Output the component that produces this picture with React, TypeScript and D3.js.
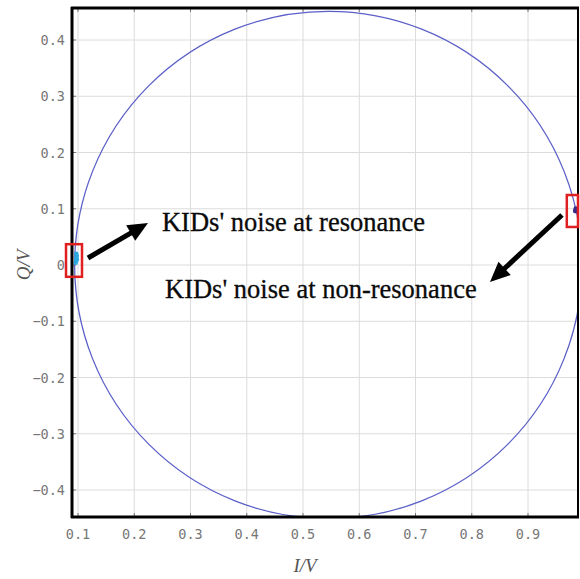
import * as React from 'react';
import * as d3 from 'd3';

const width = 580;
const height = 579;

const xTicks = [0.1, 0.2, 0.3, 0.4, 0.5, 0.6, 0.7, 0.8, 0.9];
const yTicks = [-0.4, -0.3, -0.2, -0.1, 0, 0.1, 0.2, 0.3, 0.4];

// IQ resonance circle
const circleCenter = [0.545, 0];
const circleRadius = 0.451;

// noise clusters [I, Q]
const resonanceNoise = [
  [0.096, 0.004], [0.097, 0.008], [0.097, 0.012], [0.098, 0.016], [0.097, 0.02], [0.098, 0.01],
];
const offResonanceNoise = [
  [0.984, 0.096], [0.986, 0.098], [0.985, 0.1],
];

// red boxes [I0, I1, Q0, Q1]
const boxes = [
  [0.0787, 0.1071, 0.037, -0.021],
  [0.969, 1.0, 0.1244, 0.0676],
];

// arrows [fromI, fromQ, toI, toQ]
const arrows = [
  [0.1178, 0.0124, 0.2244, 0.0747],
  [0.9604, 0.0889, 0.8324, -0.0302],
];

const labels = [
  { text: "KIDs' noise at resonance", at: [0.2493, 0.0604] },
  { text: "KIDs' noise at non-resonance", at: [0.2547, -0.0587] },
];

const margin = { top: 8, right: 1, bottom: 62, left: 72 };

export default function App() {
  const x = d3.scaleLinear().domain([0.1, 0.9]).range([78, 528]);
  const y = d3.scaleLinear().domain([-0.4, 0.4]).range([490, 40]);
  const x0 = margin.left;
  const x1 = width - margin.right;
  const y0 = margin.top;
  const y1 = height - margin.bottom;
  const tickFont = "'DejaVu Sans Mono', monospace";
  const fmt = (v: number) => (v === 0 ? '0' : d3.format('.1f')(v).replace('-', '\u2212'));

  const arrowShape = (a: number[]) => {
    const sx = x(a[0]), sy = y(a[1]), tx = x(a[2]), ty = y(a[3]);
    const ang = Math.atan2(ty - sy, tx - sx);
    const hl = 20, hw = 9;
    const bx = tx - hl * Math.cos(ang), by = ty - hl * Math.sin(ang);
    const px = -Math.sin(ang) * hw, py = Math.cos(ang) * hw;
    return {
      line: [sx, sy, bx + 2 * Math.cos(ang), by + 2 * Math.sin(ang)],
      head: `M${tx},${ty}L${bx + px},${by + py}L${bx - px},${by - py}Z`,
    };
  };

  return (
    <svg width={width} height={height} style={{ position: 'absolute', left: 0, top: 0, background: '#fff' }}>
      <defs>
        <clipPath id="plot">
          <rect x={x0} y={y0} width={x1 - x0} height={y1 - y0} />
        </clipPath>
      </defs>

      {/* grid */}
      <g stroke="#dcdcdc" strokeWidth={1}>
        {xTicks.map(t => <line key={'gx' + t} x1={x(t)} x2={x(t)} y1={y0} y2={y1} />)}
        {yTicks.map(t => <line key={'gy' + t} x1={x0} x2={x1} y1={y(t)} y2={y(t)} />)}
      </g>
      {/* inner ticks */}
      <g stroke="#777" strokeWidth={1}>
        {xTicks.map(t => <line key={'tb' + t} x1={x(t)} x2={x(t)} y1={y1} y2={y1 - 4} />)}
        {xTicks.map(t => <line key={'tt' + t} x1={x(t)} x2={x(t)} y1={y0} y2={y0 + 4} />)}
        {yTicks.map(t => <line key={'tl' + t} x1={x0} x2={x0 + 4} y1={y(t)} y2={y(t)} />)}
      </g>

      <g clipPath="url(#plot)">
        <circle
          cx={x(circleCenter[0])}
          cy={y(circleCenter[1])}
          r={x(circleCenter[0] + circleRadius) - x(circleCenter[0])}
          fill="none"
          stroke="#5b60c8"
          strokeWidth={1.3}
        />
        {resonanceNoise.map((d, i) => (
          <circle key={'rn' + i} cx={x(d[0])} cy={y(d[1])} r={2.2} fill="#2aa8e0" />
        ))}
        {offResonanceNoise.map((d, i) => (
          <circle key={'on' + i} cx={x(d[0])} cy={y(d[1])} r={2.4} fill="#3a2a8a" />
        ))}
      </g>

      {/* frame */}
      <g stroke="#000" fill="none">
        <line x1={x0} x2={x0} y1={y0 - 1} y2={y1 + 1} strokeWidth={3} />
        <line x1={x0 - 1} x2={x1} y1={y0} y2={y0} strokeWidth={3} />
        <line x1={x0 - 1} x2={x1} y1={y1} y2={y1} strokeWidth={3} />
        <line x1={x1 - 1} x2={x1 - 1} y1={y0} y2={y1} strokeWidth={2} />
      </g>

      {boxes.map((b, i) => (
        <rect
          key={'box' + i}
          x={x(b[0])}
          y={y(b[2])}
          width={Math.min(x(b[1]), x1 - 1) - x(b[0])}
          height={y(b[3]) - y(b[2])}
          fill="none"
          stroke="#e02020"
          strokeWidth={2.5}
        />
      ))}

      {arrows.map((a, i) => {
        const s = arrowShape(a);
        return (
          <g key={'ar' + i}>
            <line x1={s.line[0]} y1={s.line[1]} x2={s.line[2]} y2={s.line[3]} stroke="#000" strokeWidth={5} />
            <path d={s.head} fill="#000" />
          </g>
        );
      })}

      {labels.map((l, i) => (
        <text
          key={'lb' + i}
          x={x(l.at[0])}
          y={y(l.at[1])}
          fontFamily="'Liberation Serif', 'DejaVu Serif', serif"
          fontSize={26.5}
          fill="#0a0a0a"
          stroke="#0a0a0a"
          strokeWidth={0.3}
        >
          {l.text}
        </text>
      ))}

      {/* tick labels */}
      <g fontFamily={tickFont} fontSize={13.5} fill="#777">
        {xTicks.map(t => (
          <text key={'lx' + t} x={x(t)} y={y1 + 22} textAnchor="middle">{fmt(t)}</text>
        ))}
        {yTicks.map(t => (
          <text key={'ly' + t} x={x0 - 7} y={y(t) + 5} textAnchor="end">{fmt(t)}</text>
        ))}
      </g>

      <text
        x={305}
        y={572}
        textAnchor="middle"
        fontFamily="'Liberation Serif', serif"
        fontStyle="italic"
        fontSize={19}
        fill="#555"
      >
        I/V
      </text>
      <text
        transform={`translate(30,${y(0)}) rotate(-90)`}
        textAnchor="middle"
        fontFamily="'Liberation Serif', serif"
        fontStyle="italic"
        fontSize={19}
        fill="#555"
      >
        Q/V
      </text>
    </svg>
  );
}
